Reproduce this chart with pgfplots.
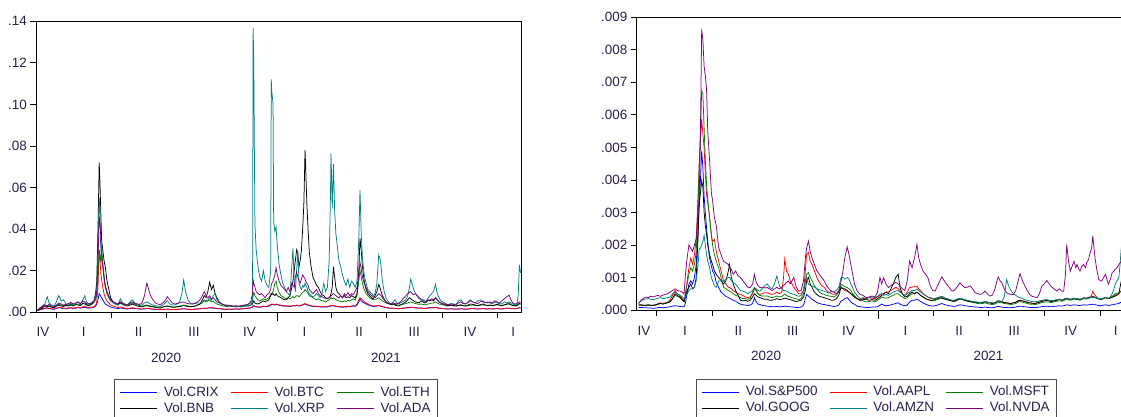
\documentclass[border=0pt]{standalone}
\usepackage{fontspec}
\setmainfont{Liberation Sans}
\usepackage{pgfplots}
\usepackage{pgfplotstable}
\pgfplotsset{compat=1.18}

\definecolor{vblue}{RGB}{0,0,255}
\definecolor{vred}{RGB}{255,0,0}
\definecolor{vgreen}{RGB}{0,128,0}
\definecolor{vteal}{RGB}{0,128,128}
\definecolor{vpurple}{RGB}{128,0,128}
\definecolor{vtext}{RGB}{35,35,75}

% days since 2020-01-01, crypto volatility
\pgfplotstableread{
d crix btc eth bnb xrp ada
-31 0.8e-3 0.9e-3 1.0e-3 0.8e-3 1.0e-3 1.2e-3
-27 1.2e-3 1.3e-3 1.8e-3 1.5e-3 2.0e-3 2.2e-3
-23 1.5e-3 1.8e-3 2.5e-3 2.2e-3 3.0e-3 3.0e-3
-19 1.8e-3 2.0e-3 3.5e-3 3.0e-3 4.0e-3 3.5e-3
-15 2.0e-3 2.2e-3 3.0e-3 2.8e-3 7.5e-3 3.2e-3
-12 1.8e-3 1.9e-3 2.8e-3 3.2e-3 4.5e-3 3.8e-3
-8 1.6e-3 1.7e-3 2.5e-3 2.5e-3 3.5e-3 3.0e-3
-4 1.4e-3 1.5e-3 2.2e-3 2.2e-3 3.0e-3 2.6e-3
0 1.8e-3 2.0e-3 3.0e-3 3.0e-3 5.0e-3 3.5e-3
4 2.2e-3 2.4e-3 3.8e-3 3.5e-3 8.0e-3 4.5e-3
8 2.0e-3 2.2e-3 3.5e-3 3.0e-3 5.5e-3 4.0e-3
12 1.8e-3 2.0e-3 3.2e-3 2.8e-3 6.0e-3 3.5e-3
16 1.7e-3 1.9e-3 3.0e-3 3.5e-3 4.0e-3 3.8e-3
20 1.9e-3 2.1e-3 3.4e-3 3.0e-3 3.5e-3 4.2e-3
24 2.1e-3 2.3e-3 3.8e-3 3.6e-3 4.5e-3 4.8e-3
28 1.8e-3 2.0e-3 3.2e-3 3.0e-3 3.5e-3 4.0e-3
32 2.0e-3 2.2e-3 3.6e-3 4.0e-3 4.2e-3 4.5e-3
36 2.2e-3 2.5e-3 4.0e-3 3.5e-3 5.0e-3 5.0e-3
40 2.0e-3 2.2e-3 3.5e-3 3.2e-3 4.0e-3 4.2e-3
44 2.3e-3 2.6e-3 4.2e-3 4.5e-3 6.0e-3 5.5e-3
47 2.4e-3 2.8e-3 4.5e-3 4.0e-3 8.0e-3 5.0e-3
50 2.1e-3 2.4e-3 3.8e-3 3.5e-3 5.0e-3 4.2e-3
54 2.0e-3 2.3e-3 3.5e-3 3.2e-3 4.0e-3 4.0e-3
58 2.2e-3 2.5e-3 4.0e-3 3.8e-3 4.5e-3 4.5e-3
62 2.4e-3 2.6e-3 4.5e-3 5.0e-3 5.5e-3 5.0e-3
65 3.0e-3 3.5e-3 6.0e-3 9.0e-3 8.0e-3 7.0e-3
67 4.0e-3 5.0e-3 8.0e-3 15e-3 10e-3 9.0e-3
69 6.0e-3 12e-3 18e-3 40e-3 30e-3 25e-3
71 9.0e-3 30e-3 30e-3 72e-3 55e-3 46e-3
72 8.5e-3 27e-3 28e-3 65e-3 50e-3 44e-3
73 8.0e-3 22e-3 25e-3 55e-3 35e-3 40e-3
74 7.5e-3 18e-3 26e-3 45e-3 30e-3 34e-3
75 7.0e-3 16e-3 30e-3 35e-3 25e-3 28e-3
77 6.0e-3 12e-3 24e-3 30e-3 22e-3 22e-3
79 5.0e-3 9.0e-3 18e-3 25e-3 16e-3 17e-3
81 4.0e-3 7.0e-3 13e-3 22e-3 12e-3 13e-3
84 3.5e-3 5.5e-3 9.0e-3 15e-3 9.0e-3 10e-3
87 3.0e-3 4.5e-3 7.0e-3 11e-3 7.0e-3 8.0e-3
90 2.5e-3 3.5e-3 5.5e-3 7.0e-3 5.5e-3 6.0e-3
94 2.2e-3 3.0e-3 5.0e-3 5.0e-3 4.5e-3 5.0e-3
98 2.0e-3 2.6e-3 4.5e-3 4.0e-3 4.0e-3 4.5e-3
102 1.8e-3 2.3e-3 4.0e-3 3.5e-3 3.5e-3 4.0e-3
106 2.1e-3 2.6e-3 5.0e-3 4.5e-3 6.5e-3 5.0e-3
110 1.9e-3 2.3e-3 4.2e-3 3.8e-3 4.5e-3 4.2e-3
114 1.7e-3 2.0e-3 3.8e-3 3.2e-3 4.0e-3 3.8e-3
118 1.6e-3 1.8e-3 3.5e-3 3.0e-3 3.6e-3 3.5e-3
122 1.8e-3 2.0e-3 4.0e-3 3.5e-3 5.0e-3 4.5e-3
126 2.0e-3 2.2e-3 4.5e-3 4.0e-3 6.0e-3 5.0e-3
130 1.8e-3 2.0e-3 4.0e-3 3.5e-3 4.5e-3 4.2e-3
134 1.7e-3 1.8e-3 3.6e-3 3.0e-3 4.0e-3 4.0e-3
138 1.6e-3 1.7e-3 3.2e-3 2.8e-3 3.5e-3 3.8e-3
142 1.5e-3 1.6e-3 3.0e-3 2.6e-3 3.5e-3 4.5e-3
146 1.6e-3 1.7e-3 3.2e-3 3.0e-3 4.5e-3 8.0e-3
150 1.8e-3 1.9e-3 3.5e-3 3.2e-3 5.0e-3 14e-3
153 1.7e-3 1.8e-3 3.3e-3 3.0e-3 4.5e-3 11e-3
156 1.6e-3 1.7e-3 3.0e-3 2.8e-3 4.0e-3 8.0e-3
160 1.5e-3 1.6e-3 2.8e-3 2.6e-3 3.5e-3 6.0e-3
164 1.4e-3 1.5e-3 2.6e-3 2.4e-3 3.2e-3 4.5e-3
168 1.3e-3 1.4e-3 2.5e-3 2.2e-3 3.0e-3 4.0e-3
172 1.2e-3 1.3e-3 2.4e-3 2.0e-3 2.8e-3 3.6e-3
176 1.3e-3 1.4e-3 2.6e-3 2.4e-3 3.5e-3 4.5e-3
180 1.4e-3 1.5e-3 2.8e-3 2.8e-3 4.5e-3 5.5e-3
184 1.5e-3 1.5e-3 3.0e-3 3.0e-3 5.5e-3 7.5e-3
188 1.4e-3 1.4e-3 2.8e-3 2.7e-3 4.0e-3 6.0e-3
192 1.3e-3 1.3e-3 2.6e-3 2.5e-3 3.5e-3 4.5e-3
196 1.3e-3 1.3e-3 2.5e-3 2.4e-3 3.5e-3 4.0e-3
200 1.4e-3 1.4e-3 2.8e-3 2.6e-3 4.0e-3 4.2e-3
204 1.5e-3 1.5e-3 3.0e-3 2.8e-3 5.0e-3 4.5e-3
208 1.6e-3 1.6e-3 3.2e-3 3.0e-3 9.0e-3 4.8e-3
211 1.7e-3 1.7e-3 3.5e-3 3.2e-3 15.5e-3 5.0e-3
214 1.6e-3 1.6e-3 3.3e-3 3.0e-3 10e-3 4.5e-3
218 1.5e-3 1.5e-3 3.0e-3 2.8e-3 6.0e-3 4.2e-3
222 1.4e-3 1.4e-3 2.8e-3 2.6e-3 4.5e-3 4.0e-3
226 1.4e-3 1.4e-3 2.8e-3 2.8e-3 4.0e-3 4.0e-3
230 1.5e-3 1.5e-3 3.0e-3 3.0e-3 4.2e-3 4.5e-3
234 1.6e-3 1.6e-3 3.5e-3 3.5e-3 4.5e-3 5.0e-3
238 1.7e-3 1.7e-3 4.0e-3 4.0e-3 4.5e-3 6.0e-3
242 1.8e-3 1.8e-3 4.5e-3 6.0e-3 5.0e-3 8.0e-3
245 2.0e-3 2.0e-3 5.5e-3 8.0e-3 6.0e-3 10e-3
248 1.9e-3 1.9e-3 5.0e-3 7.0e-3 5.5e-3 8.0e-3
251 2.0e-3 2.0e-3 5.5e-3 10e-3 6.0e-3 7.0e-3
254 2.2e-3 2.3e-3 6.0e-3 14.5e-3 7.0e-3 8.0e-3
257 2.0e-3 2.1e-3 5.0e-3 11e-3 6.0e-3 6.5e-3
260 2.1e-3 2.2e-3 5.5e-3 13e-3 8.0e-3 7.0e-3
263 1.9e-3 2.0e-3 4.5e-3 9.0e-3 9.0e-3 6.0e-3
266 1.8e-3 1.9e-3 4.0e-3 7.0e-3 6.0e-3 5.0e-3
270 1.7e-3 1.8e-3 3.6e-3 5.0e-3 5.0e-3 4.5e-3
274 1.6e-3 1.6e-3 3.2e-3 4.0e-3 4.0e-3 4.0e-3
278 1.5e-3 1.5e-3 3.0e-3 3.5e-3 3.5e-3 3.6e-3
282 1.4e-3 1.5e-3 2.8e-3 3.0e-3 3.2e-3 3.5e-3
286 1.5e-3 1.6e-3 3.0e-3 3.2e-3 3.0e-3 3.4e-3
290 1.4e-3 1.5e-3 2.8e-3 3.0e-3 2.8e-3 3.2e-3
294 1.5e-3 1.6e-3 2.9e-3 2.8e-3 2.7e-3 3.0e-3
298 1.6e-3 1.7e-3 3.0e-3 3.0e-3 2.6e-3 3.1e-3
302 1.5e-3 1.6e-3 2.8e-3 2.8e-3 2.8e-3 3.0e-3
306 1.6e-3 1.7e-3 3.0e-3 2.9e-3 2.5e-3 3.2e-3
310 1.7e-3 1.8e-3 3.2e-3 3.0e-3 2.8e-3 3.4e-3
314 1.8e-3 1.9e-3 3.4e-3 3.2e-3 3.0e-3 3.6e-3
318 1.9e-3 2.0e-3 3.8e-3 3.0e-3 3.2e-3 4.0e-3
322 2.1e-3 2.2e-3 4.5e-3 3.4e-3 3.5e-3 5.0e-3
325 2.5e-3 2.6e-3 6.0e-3 4.0e-3 5.0e-3 9.0e-3
326 3.0e-3 3.0e-3 8.0e-3 5.0e-3 137e-3 15.5e-3
327 3.2e-3 3.2e-3 9.5e-3 5.5e-3 121e-3 14e-3
328 3.0e-3 3.0e-3 9.0e-3 5.0e-3 80e-3 13e-3
329 2.8e-3 2.9e-3 8.0e-3 4.5e-3 42e-3 12e-3
331 2.6e-3 2.8e-3 7.0e-3 4.2e-3 30e-3 10e-3
334 2.5e-3 2.6e-3 6.0e-3 4.0e-3 22e-3 9.0e-3
337 2.4e-3 2.5e-3 5.5e-3 4.5e-3 17e-3 8.5e-3
340 2.6e-3 2.8e-3 6.0e-3 5.0e-3 15e-3 9.0e-3
343 2.8e-3 3.0e-3 6.5e-3 5.5e-3 20e-3 8.0e-3
346 2.6e-3 2.8e-3 6.0e-3 5.0e-3 15e-3 7.0e-3
349 2.8e-3 3.0e-3 6.5e-3 5.5e-3 13e-3 8.5e-3
352 3.0e-3 3.2e-3 7.0e-3 6.0e-3 12e-3 9.0e-3
355 3.5e-3 3.8e-3 8.0e-3 8.0e-3 20e-3 11e-3
356 3.8e-3 4.0e-3 9.0e-3 9.0e-3 112e-3 13e-3
357 3.6e-3 3.8e-3 9.0e-3 8.5e-3 106e-3 14e-3
359 3.8e-3 4.0e-3 10e-3 9.0e-3 100e-3 15e-3
360 3.6e-3 3.8e-3 11e-3 8.5e-3 44e-3 16e-3
362 3.5e-3 3.6e-3 14e-3 8.0e-3 39e-3 18e-3
364 3.8e-3 4.0e-3 15e-3 9.0e-3 41e-3 21.5e-3
366 3.6e-3 3.8e-3 12e-3 8.0e-3 32e-3 18e-3
369 3.4e-3 3.6e-3 9.5e-3 7.5e-3 23e-3 15e-3
372 3.2e-3 3.4e-3 8.0e-3 7.0e-3 18e-3 13e-3
375 3.0e-3 3.2e-3 7.5e-3 6.5e-3 14e-3 12e-3
378 3.1e-3 3.3e-3 7.0e-3 6.0e-3 12e-3 11e-3
381 2.9e-3 3.0e-3 6.5e-3 6.0e-3 10e-3 10e-3
384 3.0e-3 3.1e-3 7.0e-3 7.0e-3 9.0e-3 12e-3
387 2.8e-3 2.9e-3 6.5e-3 8.0e-3 8.0e-3 10e-3
390 3.0e-3 3.1e-3 7.0e-3 12e-3 22e-3 14e-3
392 3.2e-3 3.3e-3 7.5e-3 15e-3 30.8e-3 13e-3
394 3.0e-3 3.1e-3 7.0e-3 20e-3 15e-3 12e-3
396 3.1e-3 3.2e-3 7.5e-3 25e-3 10e-3 17e-3
398 3.3e-3 3.5e-3 8.0e-3 30e-3 20e-3 19.5e-3
400 3.2e-3 3.3e-3 8.0e-3 28e-3 30e-3 17e-3
402 3.0e-3 3.1e-3 7.5e-3 22e-3 14e-3 15e-3
404 3.2e-3 3.3e-3 8.0e-3 25e-3 12e-3 14e-3
406 3.4e-3 3.5e-3 9.0e-3 30e-3 11e-3 16e-3
408 3.5e-3 3.6e-3 9.5e-3 40e-3 13e-3 18e-3
410 3.8e-3 4.0e-3 10e-3 52e-3 12e-3 17e-3
412 4.0e-3 4.2e-3 11e-3 78e-3 14e-3 16e-3
413 3.8e-3 4.0e-3 10.5e-3 70e-3 13e-3 15e-3
415 3.6e-3 3.8e-3 10e-3 52e-3 12e-3 14e-3
417 3.4e-3 3.6e-3 9.0e-3 40e-3 10e-3 13e-3
419 3.2e-3 3.4e-3 8.0e-3 29e-3 9.0e-3 11e-3
422 3.0e-3 3.2e-3 7.5e-3 22e-3 8.0e-3 10e-3
425 2.9e-3 3.0e-3 7.0e-3 17e-3 7.5e-3 9.0e-3
428 2.8e-3 2.9e-3 6.5e-3 15e-3 8.0e-3 10e-3
431 2.7e-3 2.8e-3 6.0e-3 13e-3 9.0e-3 11e-3
434 2.8e-3 2.9e-3 6.5e-3 12e-3 8.0e-3 9.0e-3
437 2.6e-3 2.7e-3 6.0e-3 10e-3 7.0e-3 8.0e-3
440 2.5e-3 2.6e-3 5.5e-3 8.5e-3 9.0e-3 7.5e-3
443 2.6e-3 2.7e-3 5.5e-3 8.0e-3 14e-3 7.0e-3
446 2.5e-3 2.6e-3 5.0e-3 7.0e-3 10e-3 6.5e-3
449 2.6e-3 2.8e-3 5.5e-3 6.5e-3 12e-3 6.8e-3
452 2.8e-3 3.0e-3 6.0e-3 7.0e-3 25e-3 7.0e-3
454 3.0e-3 3.2e-3 6.5e-3 8.0e-3 55e-3 7.5e-3
455 3.2e-3 3.4e-3 7.0e-3 9.0e-3 76.5e-3 8.0e-3
457 3.0e-3 3.2e-3 6.5e-3 12e-3 50e-3 8.5e-3
459 3.2e-3 3.4e-3 7.0e-3 22e-3 71.5e-3 9.0e-3
461 3.0e-3 3.2e-3 6.5e-3 17e-3 49e-3 8.5e-3
463 2.8e-3 3.0e-3 6.0e-3 12e-3 38e-3 8.0e-3
465 2.7e-3 2.9e-3 5.8e-3 10e-3 33e-3 7.5e-3
468 2.6e-3 2.8e-3 5.5e-3 9.0e-3 25e-3 7.0e-3
471 2.5e-3 2.7e-3 5.2e-3 8.0e-3 22e-3 8.0e-3
474 2.4e-3 2.6e-3 5.0e-3 7.0e-3 18e-3 7.0e-3
477 2.6e-3 2.8e-3 5.5e-3 8.0e-3 15e-3 9.0e-3
480 2.5e-3 2.7e-3 5.2e-3 7.0e-3 13e-3 8.0e-3
483 2.7e-3 3.0e-3 5.8e-3 7.5e-3 16e-3 9.5e-3
486 2.6e-3 2.8e-3 5.5e-3 7.0e-3 12e-3 8.0e-3
489 2.8e-3 3.0e-3 6.0e-3 8.0e-3 15e-3 9.0e-3
492 3.0e-3 3.2e-3 6.5e-3 7.5e-3 14e-3 8.5e-3
495 2.9e-3 3.0e-3 6.0e-3 7.0e-3 12e-3 10e-3
498 3.5e-3 4.0e-3 8.0e-3 9.0e-3 15e-3 12e-3
501 5.0e-3 6.0e-3 15e-3 20e-3 35e-3 18e-3
503 6.5e-3 7.0e-3 20e-3 35.6e-3 58.8e-3 24e-3
505 5.5e-3 6.5e-3 17e-3 30e-3 38e-3 21e-3
507 5.0e-3 6.0e-3 14e-3 22e-3 26e-3 17e-3
510 4.5e-3 5.0e-3 11e-3 15e-3 18e-3 14e-3
513 4.0e-3 4.5e-3 9.0e-3 11e-3 14e-3 12e-3
516 3.6e-3 4.0e-3 8.0e-3 9.0e-3 11e-3 10e-3
519 3.3e-3 3.6e-3 7.0e-3 8.0e-3 10e-3 9.0e-3
522 3.0e-3 3.3e-3 6.5e-3 7.0e-3 9.0e-3 8.0e-3
525 2.8e-3 3.0e-3 6.0e-3 6.5e-3 8.0e-3 7.5e-3
528 2.9e-3 3.1e-3 6.0e-3 8.0e-3 9.0e-3 7.0e-3
531 3.0e-3 3.2e-3 6.5e-3 10e-3 14e-3 8.0e-3
534 3.2e-3 3.4e-3 7.0e-3 13.4e-3 27.6e-3 9.0e-3
536 3.0e-3 3.2e-3 6.5e-3 12e-3 26e-3 8.5e-3
538 2.9e-3 3.0e-3 6.0e-3 10e-3 22e-3 8.0e-3
540 2.7e-3 2.8e-3 5.5e-3 8.0e-3 15e-3 7.0e-3
543 2.5e-3 2.6e-3 5.0e-3 6.5e-3 10e-3 6.0e-3
546 2.3e-3 2.4e-3 4.5e-3 5.0e-3 7.0e-3 5.0e-3
549 2.1e-3 2.2e-3 4.2e-3 4.5e-3 5.5e-3 4.5e-3
552 2.0e-3 2.0e-3 4.0e-3 4.0e-3 4.5e-3 4.2e-3
555 1.9e-3 1.9e-3 3.8e-3 3.6e-3 4.0e-3 4.0e-3
558 2.0e-3 2.0e-3 4.0e-3 4.0e-3 5.0e-3 4.5e-3
561 1.9e-3 1.9e-3 3.8e-3 3.5e-3 6.0e-3 4.2e-3
564 1.8e-3 1.8e-3 3.6e-3 3.2e-3 4.5e-3 4.0e-3
567 1.7e-3 1.7e-3 3.5e-3 3.0e-3 4.0e-3 4.5e-3
570 1.8e-3 1.8e-3 3.6e-3 3.5e-3 4.5e-3 5.0e-3
573 1.9e-3 1.9e-3 3.8e-3 4.0e-3 5.0e-3 6.0e-3
576 2.0e-3 2.0e-3 4.0e-3 4.5e-3 5.5e-3 7.0e-3
579 2.1e-3 2.1e-3 4.2e-3 5.0e-3 6.0e-3 8.0e-3
582 2.3e-3 2.2e-3 4.5e-3 6.0e-3 8.0e-3 9.0e-3
585 2.4e-3 2.3e-3 4.8e-3 7.0e-3 12e-3 9.5e-3
587 2.5e-3 2.4e-3 5.0e-3 6.5e-3 16e-3 10e-3
589 2.4e-3 2.3e-3 4.8e-3 6.0e-3 14e-3 9.0e-3
592 2.3e-3 2.2e-3 4.5e-3 5.5e-3 11e-3 8.5e-3
595 2.2e-3 2.1e-3 4.2e-3 5.0e-3 9.0e-3 9.0e-3
598 2.1e-3 2.0e-3 4.0e-3 4.8e-3 7.5e-3 8.0e-3
601 2.0e-3 1.9e-3 3.8e-3 4.5e-3 6.5e-3 7.0e-3
604 2.1e-3 2.0e-3 4.0e-3 5.5e-3 6.0e-3 6.5e-3
607 2.0e-3 1.9e-3 3.8e-3 5.0e-3 5.5e-3 6.0e-3
610 1.9e-3 1.8e-3 3.6e-3 4.5e-3 5.0e-3 5.5e-3
613 2.0e-3 1.9e-3 3.8e-3 5.0e-3 5.5e-3 5.0e-3
616 2.1e-3 2.0e-3 4.0e-3 6.0e-3 7.0e-3 5.5e-3
619 2.2e-3 2.1e-3 4.2e-3 5.5e-3 8.0e-3 6.0e-3
622 2.3e-3 2.2e-3 4.5e-3 6.0e-3 9.0e-3 6.5e-3
625 2.2e-3 2.1e-3 4.5e-3 5.5e-3 10e-3 6.0e-3
628 2.4e-3 2.3e-3 5.0e-3 7.0e-3 13.5e-3 7.0e-3
631 2.2e-3 2.1e-3 4.5e-3 6.0e-3 9.0e-3 6.0e-3
634 2.0e-3 2.0e-3 4.0e-3 5.0e-3 7.0e-3 5.0e-3
637 1.9e-3 1.9e-3 3.8e-3 4.5e-3 5.5e-3 4.5e-3
640 1.8e-3 1.8e-3 3.6e-3 4.0e-3 5.0e-3 4.2e-3
643 1.7e-3 1.7e-3 3.4e-3 3.6e-3 4.5e-3 4.0e-3
646 1.6e-3 1.6e-3 3.2e-3 3.4e-3 4.0e-3 3.8e-3
650 1.6e-3 1.6e-3 3.2e-3 3.2e-3 3.8e-3 3.6e-3
654 1.7e-3 1.7e-3 3.4e-3 3.5e-3 4.2e-3 4.0e-3
658 1.6e-3 1.6e-3 3.2e-3 3.2e-3 4.0e-3 3.8e-3
662 1.5e-3 1.5e-3 3.0e-3 3.0e-3 3.8e-3 3.6e-3
666 1.6e-3 1.6e-3 3.2e-3 3.4e-3 5.5e-3 4.5e-3
670 1.7e-3 1.7e-3 3.4e-3 3.6e-3 6.0e-3 5.0e-3
674 1.6e-3 1.6e-3 3.2e-3 3.2e-3 4.5e-3 4.2e-3
678 1.5e-3 1.5e-3 3.0e-3 3.0e-3 4.0e-3 4.0e-3
682 1.6e-3 1.6e-3 3.2e-3 3.5e-3 5.0e-3 4.8e-3
686 1.7e-3 1.7e-3 3.4e-3 4.0e-3 6.0e-3 5.5e-3
690 1.8e-3 1.8e-3 3.5e-3 3.8e-3 5.0e-3 5.0e-3
694 1.7e-3 1.7e-3 3.3e-3 3.5e-3 4.5e-3 4.5e-3
698 1.6e-3 1.6e-3 3.2e-3 3.2e-3 5.5e-3 4.2e-3
702 1.7e-3 1.7e-3 3.4e-3 3.6e-3 6.0e-3 5.0e-3
706 1.8e-3 1.8e-3 3.6e-3 4.0e-3 5.0e-3 5.5e-3
710 1.7e-3 1.7e-3 3.4e-3 3.6e-3 4.5e-3 4.8e-3
714 1.6e-3 1.6e-3 3.2e-3 3.3e-3 5.0e-3 4.5e-3
718 1.7e-3 1.7e-3 3.3e-3 3.5e-3 4.5e-3 5.0e-3
722 1.6e-3 1.6e-3 3.2e-3 3.2e-3 4.0e-3 4.5e-3
726 1.7e-3 1.7e-3 3.4e-3 3.5e-3 5.0e-3 5.5e-3
730 1.8e-3 1.8e-3 3.6e-3 3.8e-3 4.5e-3 5.0e-3
734 1.7e-3 1.7e-3 3.4e-3 3.5e-3 4.2e-3 4.5e-3
738 1.6e-3 1.6e-3 3.2e-3 3.2e-3 4.0e-3 5.5e-3
742 1.8e-3 1.8e-3 3.6e-3 3.6e-3 5.0e-3 6.5e-3
746 1.9e-3 1.9e-3 3.8e-3 4.0e-3 4.5e-3 7.5e-3
750 2.0e-3 2.0e-3 4.0e-3 4.2e-3 5.0e-3 8.2e-3
753 1.9e-3 1.9e-3 3.6e-3 3.6e-3 4.5e-3 6.0e-3
756 1.8e-3 1.8e-3 3.4e-3 3.3e-3 4.0e-3 4.5e-3
760 1.7e-3 1.7e-3 3.2e-3 3.0e-3 3.5e-3 4.0e-3
763 1.8e-3 1.8e-3 3.4e-3 3.2e-3 4.0e-3 4.2e-3
765 2.0e-3 2.0e-3 3.8e-3 3.8e-3 8.0e-3 4.5e-3
767 2.2e-3 2.2e-3 4.2e-3 4.2e-3 22.8e-3 5.0e-3
769 2.1e-3 2.1e-3 4.0e-3 4.0e-3 19e-3 4.8e-3
}\crypto

% days since 2020-01-01, stock volatility
\pgfplotstableread{
d sp aapl msft goog amzn nvda
-30 0.8e-4 1.5e-4 1.5e-4 1.5e-4 2.0e-4 2.0e-4
-26 0.8e-4 1.6e-4 1.6e-4 1.5e-4 2.8e-4 3.0e-4
-22 0.7e-4 1.5e-4 1.4e-4 1.4e-4 3.2e-4 3.6e-4
-18 0.7e-4 1.4e-4 1.3e-4 1.5e-4 3.4e-4 4.0e-4
-14 0.6e-4 1.5e-4 1.4e-4 1.6e-4 3.5e-4 3.8e-4
-10 0.6e-4 1.4e-4 1.3e-4 1.5e-4 3.3e-4 4.2e-4
-6 0.5e-4 1.5e-4 1.4e-4 1.4e-4 3.2e-4 4.0e-4
-2 0.6e-4 1.6e-4 1.5e-4 1.6e-4 3.4e-4 4.3e-4
2 0.7e-4 2.0e-4 1.8e-4 1.8e-4 3.6e-4 4.5e-4
6 0.8e-4 2.2e-4 2.0e-4 2.0e-4 3.8e-4 4.2e-4
10 0.7e-4 2.0e-4 1.9e-4 1.8e-4 3.5e-4 4.6e-4
14 0.8e-4 2.2e-4 2.1e-4 2.0e-4 3.6e-4 4.8e-4
18 0.9e-4 2.5e-4 2.3e-4 2.2e-4 3.8e-4 5.0e-4
22 1.0e-4 3.0e-4 2.6e-4 2.5e-4 4.0e-4 5.5e-4
26 1.2e-4 4.5e-4 3.5e-4 3.5e-4 5.0e-4 6.0e-4
30 1.3e-4 6.0e-4 4.5e-4 5.0e-4 5.5e-4 6.5e-4
34 1.2e-4 5.0e-4 4.2e-4 4.5e-4 5.0e-4 6.0e-4
38 1.1e-4 4.5e-4 3.8e-4 4.0e-4 4.6e-4 5.8e-4
42 1.0e-4 3.5e-4 3.2e-4 3.0e-4 4.0e-4 5.5e-4
45 1.0e-4 2.8e-4 2.5e-4 2.6e-4 3.5e-4 5.0e-4
47 2.0e-4 4.0e-4 5.0e-4 4.0e-4 4.0e-4 10.5e-4
50 5.0e-4 9.0e-4 8.0e-4 6.0e-4 5.0e-4 16e-4
53 8.0e-4 13e-4 11e-4 7.0e-4 6.0e-4 20e-4
56 9.0e-4 16e-4 13e-4 8.0e-4 6.5e-4 19e-4
59 8.0e-4 14e-4 12e-4 6.5e-4 6.5e-4 18e-4
62 10e-4 17e-4 14e-4 7.0e-4 7.0e-4 20e-4
65 14e-4 22e-4 18e-4 10e-4 9.0e-4 22e-4
68 25e-4 35e-4 32e-4 22e-4 14e-4 30e-4
70 33e-4 46e-4 44e-4 33e-4 19e-4 35e-4
72 40e-4 52e-4 55e-4 36e-4 19e-4 55e-4
74 49e-4 58.7e-4 67.4e-4 39.7e-4 20e-4 86.4e-4
76 43.8e-4 54e-4 66.4e-4 37.7e-4 21e-4 83e-4
78 35e-4 50e-4 56e-4 30e-4 23e-4 75e-4
80 30e-4 42e-4 46e-4 26e-4 20e-4 72e-4
82 25.3e-4 35.6e-4 38.7e-4 23.3e-4 17.1e-4 68e-4
84 21e-4 33e-4 34e-4 20e-4 15e-4 55e-4
87 16e-4 28.4e-4 28.4e-4 17e-4 13e-4 46e-4
90 13.5e-4 23e-4 23e-4 15e-4 10e-4 36e-4
92 12e-4 21e-4 20e-4 14e-4 8.9e-4 33.6e-4
95 11e-4 21.7e-4 17e-4 12e-4 7.5e-4 28.4e-4
98 8.5e-4 18e-4 15e-4 11e-4 7.0e-4 26e-4
102 6.9e-4 15e-4 13e-4 10e-4 8.9e-4 19.2e-4
106 5.5e-4 12e-4 10e-4 9.0e-4 9.0e-4 17e-4
110 4.8e-4 9.0e-4 7.0e-4 8.0e-4 8.9e-4 15e-4
114 4.2e-4 8.0e-4 6.5e-4 9.0e-4 9.5e-4 14.5e-4
118 3.8e-4 7.0e-4 6.0e-4 12e-4 10e-4 14e-4
120 3.6e-4 6.9e-4 5.8e-4 14e-4 10e-4 13e-4
123 3.3e-4 6.5e-4 5.5e-4 10e-4 9.0e-4 12.5e-4
126 3.0e-4 6.0e-4 5.0e-4 8.0e-4 8.5e-4 11e-4
130 2.7e-4 5.5e-4 4.5e-4 6.0e-4 7.9e-4 12e-4
134 2.2e-4 5.0e-4 4.2e-4 4.5e-4 7.0e-4 10.5e-4
138 1.8e-4 4.8e-4 3.8e-4 3.0e-4 6.0e-4 10e-4
142 1.6e-4 4.5e-4 3.5e-4 2.8e-4 5.8e-4 9.0e-4
146 1.5e-4 4.0e-4 3.5e-4 3.0e-4 5.5e-4 8.0e-4
150 1.4e-4 3.8e-4 3.3e-4 2.7e-4 5.0e-4 7.0e-4
154 1.5e-4 4.0e-4 3.6e-4 3.0e-4 5.5e-4 6.9e-4
158 2.0e-4 5.0e-4 5.5e-4 4.0e-4 6.0e-4 8.0e-4
161 3.8e-4 6.5e-4 6.9e-4 5.0e-4 6.9e-4 11e-4
164 2.5e-4 6.0e-4 6.0e-4 4.5e-4 6.5e-4 8.5e-4
167 1.8e-4 5.0e-4 5.0e-4 4.0e-4 6.0e-4 7.5e-4
170 1.7e-4 4.8e-4 4.5e-4 3.8e-4 5.8e-4 6.9e-4
174 1.4e-4 5.0e-4 4.3e-4 3.5e-4 6.5e-4 7.0e-4
178 1.3e-4 5.3e-4 4.3e-4 3.3e-4 7.5e-4 6.8e-4
182 1.2e-4 5.3e-4 4.3e-4 3.3e-4 8.0e-4 6.9e-4
186 1.1e-4 5.0e-4 4.0e-4 3.0e-4 7.0e-4 6.5e-4
190 1.0e-4 4.8e-4 3.8e-4 3.0e-4 6.5e-4 6.0e-4
194 1.0e-4 5.0e-4 4.0e-4 3.2e-4 8.0e-4 6.5e-4
198 1.1e-4 5.5e-4 4.3e-4 3.5e-4 10.5e-4 7.0e-4
202 1.0e-4 5.0e-4 4.0e-4 3.2e-4 7.5e-4 6.5e-4
206 1.0e-4 5.5e-4 4.2e-4 3.3e-4 6.5e-4 7.0e-4
209 1.1e-4 10e-4 4.5e-4 3.5e-4 6.0e-4 7.5e-4
211 1.2e-4 15.6e-4 4.8e-4 3.6e-4 6.0e-4 7.9e-4
214 1.1e-4 12e-4 4.5e-4 3.5e-4 5.8e-4 8.5e-4
217 1.0e-4 11e-4 4.2e-4 3.3e-4 5.5e-4 8.9e-4
220 1.0e-4 9.0e-4 4.0e-4 3.2e-4 5.2e-4 8.0e-4
223 0.9e-4 8.0e-4 3.8e-4 3.0e-4 5.0e-4 9.0e-4
226 0.9e-4 7.0e-4 3.6e-4 2.8e-4 4.8e-4 10e-4
230 0.8e-4 6.0e-4 3.4e-4 2.6e-4 4.5e-4 7.0e-4
234 0.8e-4 5.0e-4 3.2e-4 2.8e-4 4.2e-4 5.8e-4
238 0.9e-4 5.0e-4 3.5e-4 3.0e-4 4.5e-4 6.0e-4
242 1.5e-4 6.0e-4 5.0e-4 4.0e-4 6.0e-4 9.0e-4
245 3.5e-4 12e-4 9.0e-4 6.0e-4 9.0e-4 16e-4
247 4.8e-4 17e-4 11e-4 8.9e-4 10e-4 19e-4
250 4.3e-4 17.7e-4 11.5e-4 10e-4 7.9e-4 21.2e-4
253 3.8e-4 15e-4 10e-4 8.0e-4 7.6e-4 18e-4
256 3.3e-4 14e-4 9.0e-4 7.0e-4 7.4e-4 16e-4
260 2.8e-4 12e-4 7.5e-4 5.5e-4 7.0e-4 14e-4
264 2.3e-4 10e-4 6.5e-4 4.8e-4 6.5e-4 12e-4
268 2.0e-4 8.5e-4 5.5e-4 4.2e-4 6.2e-4 11e-4
272 1.8e-4 7.5e-4 5.0e-4 4.0e-4 6.0e-4 10e-4
276 1.7e-4 7.0e-4 4.8e-4 3.8e-4 5.8e-4 9.0e-4
280 1.5e-4 6.0e-4 4.5e-4 3.5e-4 5.5e-4 7.5e-4
284 1.4e-4 5.5e-4 4.3e-4 3.3e-4 5.2e-4 6.5e-4
288 1.2e-4 5.0e-4 4.2e-4 3.0e-4 5.8e-4 5.8e-4
292 1.1e-4 4.8e-4 4.0e-4 3.0e-4 5.5e-4 5.5e-4
296 1.2e-4 5.0e-4 4.5e-4 3.5e-4 6.0e-4 5.0e-4
300 1.5e-4 5.5e-4 5.5e-4 4.5e-4 7.0e-4 6.0e-4
304 2.8e-4 7.0e-4 7.9e-4 7.0e-4 10e-4 9.0e-4
307 3.0e-4 6.5e-4 7.5e-4 6.5e-4 10e-4 12e-4
310 3.5e-4 6.0e-4 7.2e-4 6.5e-4 9.5e-4 16e-4
314 3.8e-4 5.8e-4 6.9e-4 6.0e-4 10e-4 19.4e-4
317 3.2e-4 5.5e-4 6.5e-4 5.5e-4 9.5e-4 17e-4
320 2.5e-4 5.0e-4 6.0e-4 5.0e-4 8.0e-4 14e-4
323 2.0e-4 4.5e-4 5.0e-4 4.5e-4 6.9e-4 11e-4
326 1.8e-4 4.0e-4 4.5e-4 4.0e-4 5.5e-4 8.0e-4
330 1.2e-4 3.5e-4 3.5e-4 3.5e-4 4.5e-4 6.0e-4
335 1.0e-4 3.2e-4 3.0e-4 3.0e-4 3.5e-4 4.8e-4
340 0.9e-4 3.5e-4 2.8e-4 3.2e-4 3.8e-4 4.5e-4
345 0.8e-4 3.5e-4 2.5e-4 3.3e-4 3.5e-4 3.8e-4
350 0.8e-4 3.8e-4 2.6e-4 3.0e-4 3.8e-4 4.0e-4
355 0.9e-4 3.6e-4 2.8e-4 3.2e-4 4.0e-4 4.3e-4
360 0.9e-4 3.5e-4 2.5e-4 3.0e-4 3.8e-4 4.0e-4
364 1.0e-4 4.0e-4 3.0e-4 3.5e-4 4.2e-4 5.5e-4
368 1.5e-4 4.5e-4 3.5e-4 4.0e-4 4.8e-4 10e-4
371 1.8e-4 5.0e-4 4.0e-4 4.5e-4 5.0e-4 8.0e-4
374 1.5e-4 5.0e-4 3.8e-4 5.0e-4 4.5e-4 9.9e-4
378 1.3e-4 5.5e-4 3.6e-4 5.5e-4 4.8e-4 8.0e-4
382 1.4e-4 5.5e-4 3.8e-4 5.0e-4 4.5e-4 6.9e-4
386 1.6e-4 6.0e-4 4.2e-4 6.5e-4 5.0e-4 7.5e-4
390 1.8e-4 6.5e-4 4.5e-4 8.0e-4 5.5e-4 8.0e-4
394 2.0e-4 7.0e-4 5.0e-4 10e-4 5.8e-4 8.5e-4
398 2.2e-4 6.5e-4 5.0e-4 11e-4 6.0e-4 8.0e-4
401 1.8e-4 6.0e-4 4.5e-4 7.0e-4 5.5e-4 7.5e-4
405 1.5e-4 5.0e-4 4.0e-4 5.0e-4 5.0e-4 6.5e-4
409 1.3e-4 4.5e-4 3.5e-4 4.0e-4 4.5e-4 6.0e-4
413 1.5e-4 5.5e-4 3.8e-4 4.2e-4 5.0e-4 9.0e-4
417 2.5e-4 6.9e-4 4.5e-4 5.0e-4 5.5e-4 15.1e-4
421 3.0e-4 7.0e-4 5.0e-4 5.5e-4 6.0e-4 13e-4
425 3.0e-4 7.2e-4 5.0e-4 5.0e-4 6.0e-4 16e-4
429 3.3e-4 7.4e-4 5.5e-4 5.5e-4 6.5e-4 20.2e-4
432 3.0e-4 6.5e-4 5.0e-4 5.0e-4 6.0e-4 16e-4
435 2.6e-4 6.0e-4 4.5e-4 4.5e-4 5.5e-4 14e-4
439 2.2e-4 5.0e-4 4.0e-4 4.0e-4 5.0e-4 12e-4
443 1.8e-4 4.5e-4 3.5e-4 3.5e-4 4.5e-4 11e-4
447 1.5e-4 4.0e-4 3.2e-4 3.2e-4 4.0e-4 10e-4
451 1.3e-4 3.6e-4 3.0e-4 3.0e-4 3.8e-4 7.4e-4
455 1.2e-4 3.4e-4 2.8e-4 3.0e-4 3.6e-4 6.0e-4
459 1.3e-4 3.5e-4 3.0e-4 3.2e-4 3.5e-4 5.8e-4
463 1.5e-4 3.8e-4 3.2e-4 3.5e-4 3.8e-4 7.5e-4
467 1.8e-4 4.0e-4 3.5e-4 3.8e-4 4.0e-4 9.0e-4
470 2.0e-4 4.2e-4 3.8e-4 3.6e-4 4.2e-4 10.2e-4
474 1.7e-4 3.8e-4 3.4e-4 3.4e-4 3.8e-4 9.0e-4
478 1.5e-4 3.5e-4 3.2e-4 3.2e-4 3.5e-4 7.9e-4
482 1.3e-4 3.2e-4 3.0e-4 3.0e-4 3.3e-4 7.0e-4
486 1.2e-4 3.0e-4 2.8e-4 2.8e-4 3.0e-4 6.0e-4
489 1.1e-4 2.8e-4 2.6e-4 2.7e-4 3.0e-4 5.8e-4
493 1.2e-4 3.0e-4 2.8e-4 2.8e-4 3.2e-4 6.5e-4
497 1.4e-4 3.3e-4 3.2e-4 3.2e-4 3.5e-4 7.5e-4
500 1.6e-4 3.5e-4 3.4e-4 3.5e-4 3.6e-4 8.4e-4
504 1.5e-4 3.2e-4 3.2e-4 3.3e-4 3.4e-4 7.5e-4
508 1.3e-4 3.0e-4 3.0e-4 3.0e-4 3.2e-4 6.9e-4
512 1.2e-4 2.8e-4 2.7e-4 2.8e-4 3.0e-4 7.0e-4
517 1.1e-4 2.6e-4 2.5e-4 2.6e-4 2.8e-4 7.4e-4
521 1.0e-4 2.5e-4 2.3e-4 2.5e-4 2.6e-4 6.5e-4
525 0.9e-4 2.4e-4 2.2e-4 2.4e-4 2.5e-4 5.3e-4
529 0.9e-4 2.3e-4 2.0e-4 2.3e-4 2.4e-4 5.0e-4
533 0.8e-4 2.2e-4 1.9e-4 2.2e-4 2.3e-4 4.8e-4
537 0.8e-4 2.3e-4 2.0e-4 2.3e-4 2.4e-4 5.0e-4
541 0.9e-4 2.5e-4 2.2e-4 2.5e-4 2.5e-4 5.8e-4
545 0.8e-4 2.4e-4 2.0e-4 2.4e-4 2.4e-4 5.0e-4
549 0.7e-4 2.2e-4 1.8e-4 2.2e-4 2.3e-4 4.3e-4
553 0.7e-4 2.0e-4 1.7e-4 2.0e-4 2.2e-4 4.5e-4
557 0.8e-4 2.2e-4 1.8e-4 2.2e-4 2.3e-4 6.0e-4
561 1.0e-4 2.6e-4 2.2e-4 2.6e-4 2.6e-4 9.0e-4
563 1.1e-4 2.8e-4 2.4e-4 2.8e-4 2.8e-4 10.2e-4
566 1.0e-4 2.7e-4 2.3e-4 2.7e-4 2.7e-4 9.0e-4
569 0.9e-4 2.5e-4 2.2e-4 2.5e-4 2.6e-4 8.4e-4
573 0.8e-4 2.3e-4 2.0e-4 2.3e-4 4.0e-4 6.5e-4
577 0.8e-4 2.2e-4 1.9e-4 2.2e-4 9.4e-4 5.3e-4
580 0.7e-4 2.1e-4 1.8e-4 2.1e-4 7.5e-4 5.0e-4
584 0.7e-4 2.0e-4 1.7e-4 2.0e-4 6.0e-4 4.8e-4
588 0.8e-4 2.2e-4 1.8e-4 2.2e-4 5.0e-4 4.8e-4
592 0.9e-4 2.4e-4 2.0e-4 2.4e-4 4.5e-4 6.0e-4
596 1.1e-4 2.8e-4 2.5e-4 2.8e-4 4.0e-4 9.0e-4
599 1.2e-4 3.0e-4 2.6e-4 3.0e-4 3.8e-4 11.2e-4
603 1.1e-4 2.8e-4 2.4e-4 2.8e-4 3.5e-4 9.0e-4
607 1.0e-4 2.6e-4 2.2e-4 2.6e-4 3.2e-4 7.4e-4
611 0.9e-4 2.4e-4 2.0e-4 2.4e-4 3.0e-4 6.0e-4
615 0.8e-4 2.2e-4 1.8e-4 2.2e-4 2.8e-4 4.8e-4
619 0.8e-4 2.1e-4 1.8e-4 2.1e-4 2.6e-4 4.2e-4
623 0.7e-4 2.0e-4 1.7e-4 2.0e-4 2.5e-4 4.0e-4
627 0.8e-4 2.2e-4 1.8e-4 2.2e-4 2.6e-4 3.8e-4
631 0.9e-4 2.5e-4 2.0e-4 2.4e-4 2.8e-4 5.0e-4
635 1.0e-4 2.8e-4 2.3e-4 2.6e-4 3.0e-4 7.4e-4
639 1.1e-4 2.9e-4 2.4e-4 2.8e-4 3.1e-4 8.0e-4
643 1.2e-4 3.0e-4 2.5e-4 3.0e-4 3.2e-4 9.1e-4
647 1.1e-4 2.8e-4 2.4e-4 2.8e-4 3.0e-4 8.0e-4
651 1.0e-4 2.7e-4 2.3e-4 2.6e-4 2.9e-4 7.1e-4
655 1.1e-4 2.9e-4 2.5e-4 2.8e-4 3.0e-4 6.5e-4
660 1.2e-4 3.1e-4 2.7e-4 3.0e-4 3.2e-4 5.8e-4
664 1.3e-4 3.2e-4 2.8e-4 3.3e-4 3.3e-4 6.5e-4
668 1.2e-4 3.0e-4 2.7e-4 3.0e-4 3.1e-4 5.8e-4
671 1.3e-4 3.2e-4 2.9e-4 3.2e-4 3.3e-4 5.8e-4
674 1.5e-4 3.5e-4 3.2e-4 3.5e-4 3.5e-4 11e-4
676 1.6e-4 3.6e-4 3.3e-4 3.6e-4 3.6e-4 20.2e-4
679 1.5e-4 3.4e-4 3.1e-4 3.4e-4 3.4e-4 15e-4
682 1.4e-4 3.2e-4 3.0e-4 3.2e-4 3.3e-4 12e-4
685 1.5e-4 3.4e-4 3.2e-4 3.4e-4 3.4e-4 13.5e-4
688 1.6e-4 3.6e-4 3.4e-4 3.6e-4 3.6e-4 15e-4
691 1.5e-4 3.4e-4 3.2e-4 3.4e-4 3.5e-4 13e-4
693 1.5e-4 3.5e-4 3.3e-4 3.5e-4 3.5e-4 14e-4
696 1.4e-4 3.3e-4 3.1e-4 3.3e-4 3.4e-4 12.5e-4
698 1.4e-4 3.2e-4 3.0e-4 3.2e-4 3.3e-4 12e-4
701 1.5e-4 3.5e-4 3.3e-4 3.5e-4 3.5e-4 13.5e-4
704 1.6e-4 3.7e-4 3.5e-4 3.7e-4 3.7e-4 14e-4
707 1.5e-4 3.6e-4 3.4e-4 3.6e-4 3.6e-4 13e-4
709 1.5e-4 3.6e-4 3.4e-4 3.6e-4 3.6e-4 14.6e-4
712 1.6e-4 3.8e-4 3.6e-4 3.8e-4 3.7e-4 15.5e-4
714 1.6e-4 4.0e-4 3.7e-4 3.8e-4 3.8e-4 17.2e-4
717 1.7e-4 4.5e-4 3.9e-4 4.0e-4 3.9e-4 19e-4
719 1.8e-4 5.8e-4 4.0e-4 4.2e-4 4.0e-4 22.8e-4
721 1.7e-4 5.0e-4 3.9e-4 4.0e-4 3.9e-4 19e-4
723 1.6e-4 4.5e-4 3.8e-4 3.9e-4 3.8e-4 15.6e-4
726 1.5e-4 3.8e-4 3.6e-4 3.6e-4 3.6e-4 12e-4
729 1.4e-4 3.5e-4 3.4e-4 3.4e-4 3.5e-4 9.4e-4
732 1.3e-4 3.3e-4 3.2e-4 3.3e-4 3.4e-4 8.9e-4
734 1.4e-4 3.4e-4 3.3e-4 3.4e-4 3.5e-4 8.9e-4
737 1.5e-4 3.6e-4 3.5e-4 3.6e-4 3.7e-4 10e-4
740 1.6e-4 3.8e-4 3.8e-4 3.8e-4 3.9e-4 11e-4
743 1.5e-4 3.6e-4 3.6e-4 3.6e-4 3.7e-4 9.0e-4
745 1.4e-4 3.5e-4 3.5e-4 3.5e-4 3.6e-4 7.9e-4
748 1.5e-4 3.8e-4 3.8e-4 3.7e-4 4.0e-4 9.5e-4
751 1.6e-4 4.0e-4 4.2e-4 3.9e-4 5.0e-4 11.5e-4
754 1.7e-4 4.3e-4 4.6e-4 4.1e-4 6.5e-4 12e-4
756 1.8e-4 4.5e-4 5.0e-4 4.3e-4 7.9e-4 12.5e-4
759 1.9e-4 4.8e-4 5.2e-4 4.6e-4 9.0e-4 13e-4
762 2.0e-4 5.0e-4 5.3e-4 5.0e-4 10e-4 14e-4
764 2.2e-4 5.5e-4 5.5e-4 7.0e-4 14e-4 14.5e-4
766 2.5e-4 6.0e-4 5.8e-4 9.0e-4 19.2e-4 15e-4
}\stocks

\pgfplotsset{
  vol/.style={
    scale only axis, clip=false, no markers,
    xmin=-33, xmax=771,
    xtick={0,91,182,274,456,547,639,731}, xticklabels={},
    extra x ticks={366}, extra x tick labels={},
    extra x tick style={major tick length=9bp},
    major tick length=6bp,
    tick align=outside, xtick pos=lower, ytick pos=left,
    tick style={black, line width=0.8bp},
    axis line style={line width=0.8bp},
    scaled y ticks=false,
    every axis plot/.append style={line width=0.75bp},
    legend columns=3, legend cell align=left,
    legend image code/.code={\draw[##1, line width=0.9bp] (0bp,0bp) -- (37bp,0bp);},
    legend style={anchor=north west, draw=black!70, line width=0.8bp,
      inner xsep=5bp, inner ysep=5bp, text=vtext,
      nodes={inner sep=1.5bp, text height=10bp, text depth=3bp},
      /tikz/every odd column/.append style={column sep=5bp},
      /tikz/every even column/.append style={column sep=10bp}},
  }
}

\begin{document}
\begin{tikzpicture}[font=\fontsize{13.5}{16}\selectfont, text=vtext]
\path[use as bounding box] (0bp,0bp) rectangle (1121bp,417bp);

\begin{axis}[vol,
  at={(36.4bp,104.7bp)}, anchor=south west,
  width=485.4bp, height=291bp,
  ymin=0, ymax=0.14,
  ytick={0,0.02,0.04,0.06,0.08,0.1,0.12,0.14},
  yticklabels={.00,.02,.04,.06,.08,.10,.12,.14},
  legend style={at={(0.1605,-0.2302)}}]
\addplot[draw=vblue] table[x=d, y=crix] {\crypto};
\addlegendentry{Vol.CRIX}
\addplot[draw=vred] table[x=d, y=btc] {\crypto};
\addlegendentry{Vol.BTC}
\addplot[draw=vgreen] table[x=d, y=eth] {\crypto};
\addlegendentry{Vol.ETH}
\addplot[draw=black] table[x=d, y=bnb] {\crypto};
\addlegendentry{Vol.BNB}
\addplot[draw=vteal] table[x=d, y=xrp] {\crypto};
\addlegendentry{Vol.XRP}
\addplot[draw=vpurple] table[x=d, y=ada] {\crypto};
\addlegendentry{Vol.ADA}
\node[yshift=-19.7bp] at (axis cs:-22,0) {IV};
\node[yshift=-19.7bp] at (axis cs:45.5,0) {I};
\node[yshift=-19.7bp] at (axis cs:136.5,0) {II};
\node[yshift=-19.7bp] at (axis cs:228,0) {III};
\node[yshift=-19.7bp] at (axis cs:320,0) {IV};
\node[yshift=-19.7bp] at (axis cs:411,0) {I};
\node[yshift=-19.7bp] at (axis cs:501.5,0) {II};
\node[yshift=-19.7bp] at (axis cs:593,0) {III};
\node[yshift=-19.7bp] at (axis cs:685,0) {IV};
\node[yshift=-19.7bp] at (axis cs:757,0) {I};
\node[yshift=-45.4bp] at (axis cs:182,0) {2020};
\node[yshift=-45.4bp] at (axis cs:546,0) {2021};
\end{axis}

\begin{axis}[vol,
  at={(636.8bp,107bp)}, anchor=south west,
  width=487.5bp, height=292.7bp,
  ymin=0, ymax=0.009,
  ytick={0,0.001,0.002,0.003,0.004,0.005,0.006,0.007,0.008,0.009},
  yticklabels={.000,.001,.002,.003,.004,.005,.006,.007,.008,.009},
  legend style={at={(0.1214,-0.2357)}}]
\addplot[draw=vblue] table[x=d, y=sp] {\stocks};
\addlegendentry{Vol.S\&P500}
\addplot[draw=vred] table[x=d, y=aapl] {\stocks};
\addlegendentry{Vol.AAPL}
\addplot[draw=vgreen] table[x=d, y=msft] {\stocks};
\addlegendentry{Vol.MSFT}
\addplot[draw=black] table[x=d, y=goog] {\stocks};
\addlegendentry{Vol.GOOG}
\addplot[draw=vteal] table[x=d, y=amzn] {\stocks};
\addlegendentry{Vol.AMZN}
\addplot[draw=vpurple] table[x=d, y=nvda] {\stocks};
\addlegendentry{Vol.NVDA}
\node[yshift=-21bp] at (axis cs:-21,0) {IV};
\node[yshift=-21bp] at (axis cs:46.5,0) {I};
\node[yshift=-21bp] at (axis cs:134.5,0) {II};
\node[yshift=-21bp] at (axis cs:224,0) {III};
\node[yshift=-21bp] at (axis cs:316,0) {IV};
\node[yshift=-21bp] at (axis cs:410,0) {I};
\node[yshift=-21bp] at (axis cs:498.7,0) {II};
\node[yshift=-21bp] at (axis cs:589.5,0) {III};
\node[yshift=-21bp] at (axis cs:682.6,0) {IV};
\node[yshift=-21bp] at (axis cs:757,0) {I};
\node[yshift=-46bp] at (axis cs:180.4,0) {2020};
\node[yshift=-46bp] at (axis cs:547,0) {2021};
\end{axis}
\end{tikzpicture}
\end{document}
